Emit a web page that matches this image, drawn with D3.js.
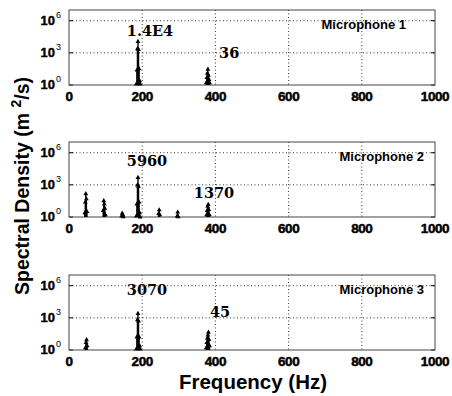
<!DOCTYPE html>
<html><head><meta charset="utf-8">
<script src="https://cdn.jsdelivr.net/npm/d3@7"></script>
<style>body{margin:0;background:#fff}svg{display:block}</style>
</head><body>
<script>
// ---- data ----
const xTicks = [0, 200, 400, 600, 800, 1000];
const yTicks = [1, 1e3, 1e6];
const yTickExp = ["0", "3", "6"];
const panelNames = ["Microphone 1", "Microphone 2", "Microphone 3"];

const mic1Freq = [184, 185.5, 187, 188.5, 190, 191.5, 193, 194.5, 375, 376.5, 378, 379.5, 381, 382.5, 384];
const mic1Val  = [1.5, 30, 3000, 14000, 2500, 40, 3, 1.5, 2, 6, 15, 36, 10, 4, 2];

const mic2Freq = [43, 44.5, 46, 47.5, 49, 93.5, 95, 96.5, 98, 99.5, 144, 145.5, 147, 148.5, 184, 185.5, 187, 188.5, 190, 191.5, 193, 194.5, 245, 246.5, 248, 295.5, 297, 298.5, 376, 377.5, 379, 380.5, 382, 383.5];
const mic2Val  = [3, 30, 180, 60, 4, 5, 40, 20, 8, 2, 1.5, 2.7, 2, 1.3, 1.5, 20, 1200, 5960, 900, 30, 3, 1.2, 2.5, 5.6, 2, 1.5, 3.5, 1.3, 2, 5, 12, 18, 6, 2];

const mic3Freq = [45, 46.5, 48, 49.5, 184, 185.5, 187, 188.5, 190, 191.5, 193, 194.5, 375, 376.5, 378, 379.5, 381, 382.5, 384];
const mic3Val  = [2, 6, 11, 3, 1.5, 20, 800, 3070, 600, 20, 3, 1.5, 2, 6, 15, 30, 56, 12, 3];

const annLabels = [["1.4E4", "36"], ["5960", "1370"], ["3070", "45"]];
const annFreq   = [[158, 410], [158, 341], [158, 385]];
const annVal    = [[3.5e4, 330], [5.8e4, 60], [1.36e5, 1200]];

const series = [[mic1Freq, mic1Val], [mic2Freq, mic2Val], [mic3Freq, mic3Val]];

// ---- layout ----
const W = 452, H = 396;
const left = 69, right = 435;
const tops = [10, 142, 275];
const ph = 75;
const sans = "Liberation Sans, Arial, sans-serif";

const svg = d3.select("body").append("svg").attr("width", W).attr("height", H);
const x = d3.scaleLinear().domain([0, 1000]).range([left, right]);

tops.forEach((top, i) => {
  const y = d3.scaleLog().domain([1, 1e7]).range([top + ph, top]);
  const g = svg.append("g");
  // grid
  g.selectAll(".gx").data(xTicks.slice(1, -1)).join("line")
    .attr("x1", d => x(d)).attr("x2", d => x(d)).attr("y1", top).attr("y2", top + ph)
    .attr("stroke", "#000").attr("stroke-width", 0.8).attr("stroke-dasharray", "1,2.5");
  g.selectAll(".gy").data(yTicks.slice(1)).join("line")
    .attr("x1", left).attr("x2", right).attr("y1", d => y(d)).attr("y2", d => y(d))
    .attr("stroke", "#000").attr("stroke-width", 0.8).attr("stroke-dasharray", "1,2.5");
  // tick marks
  g.selectAll(".ty").data(yTicks).join("line")
    .attr("x1", left).attr("x2", left + 4).attr("y1", d => y(d)).attr("y2", d => y(d))
    .attr("stroke", "#000");
  g.selectAll(".ty2").data(yTicks).join("line")
    .attr("x1", right).attr("x2", right - 4).attr("y1", d => y(d)).attr("y2", d => y(d))
    .attr("stroke", "#000");
  // box
  g.append("rect").attr("x", left).attr("y", top).attr("width", right - left).attr("height", ph)
    .attr("fill", "none").attr("stroke", "#444").attr("stroke-width", 1);
  // stems
  const [fr, vals] = series[i];
  const pts = fr.map((f, k) => ({f, v: vals[k]}));
  g.selectAll(".stem").data(pts).join("line")
    .attr("x1", d => x(d.f)).attr("x2", d => x(d.f))
    .attr("y1", y(1)).attr("y2", d => y(d.v))
    .attr("stroke", "#000").attr("stroke-width", 1.4);
  g.selectAll(".mk").data(pts).join("path")
    .attr("d", d3.symbol(d3.symbolTriangle, 10))
    .attr("transform", d => `translate(${x(d.f)},${y(d.v) + 1})`)
    .attr("fill", "#000");
  // y tick labels
  yTicks.forEach((t, k) => {
    g.append("text").attr("x", 55).attr("y", y(t) + 4)
      .attr("text-anchor", "end").attr("font-family", sans)
      .attr("font-weight", "bold").attr("font-size", 13)
      .attr("stroke", "#000").attr("stroke-width", 0.4).text("10");
    g.append("text").attr("x", 56).attr("y", y(t) - 3)
      .attr("font-family", sans).attr("font-size", 9).text(yTickExp[k]);
  });
  // x tick labels
  g.selectAll(".xl").data(xTicks).join("text")
    .attr("x", d => x(d)).attr("y", top + ph + 16)
    .attr("text-anchor", "middle").attr("font-family", sans)
    .attr("font-weight", "bold").attr("font-size", 13.5).attr("letter-spacing", -0.4)
    .attr("stroke", "#000").attr("stroke-width", 0.5)
    .text(d => d);
  // panel name
  g.append("text").attr("x", i === 0 ? 406 : 424).attr("y", top + 19)
    .attr("text-anchor", "end").attr("font-family", sans)
    .attr("font-weight", "bold").attr("font-size", 13).text(panelNames[i]);
  // annotations
  annLabels[i].forEach((lab, k) => {
    g.append("text").attr("x", x(annFreq[i][k])).attr("y", y(annVal[i][k]))
      .attr("font-family", "DejaVu Serif, serif").attr("font-weight", "bold")
      .attr("font-size", 14.5).text(lab);
  });
});

// axis titles
svg.append("text").attr("x", 253).attr("y", 389).attr("text-anchor", "middle")
  .attr("font-family", sans).attr("font-weight", "bold")
  .attr("font-size", 20.5).text("Frequency (Hz)");

const yl = svg.append("text").attr("transform", "translate(29,186) rotate(-90)")
  .attr("text-anchor", "middle").attr("font-family", sans)
  .attr("font-weight", "bold").attr("font-size", 19.5);
yl.append("tspan").text("Spectral Density (m ");
yl.append("tspan").attr("font-size", 14).attr("dy", -8).text("2");
yl.append("tspan").attr("dy", 8).text("/s)");
</script>
</body></html>
